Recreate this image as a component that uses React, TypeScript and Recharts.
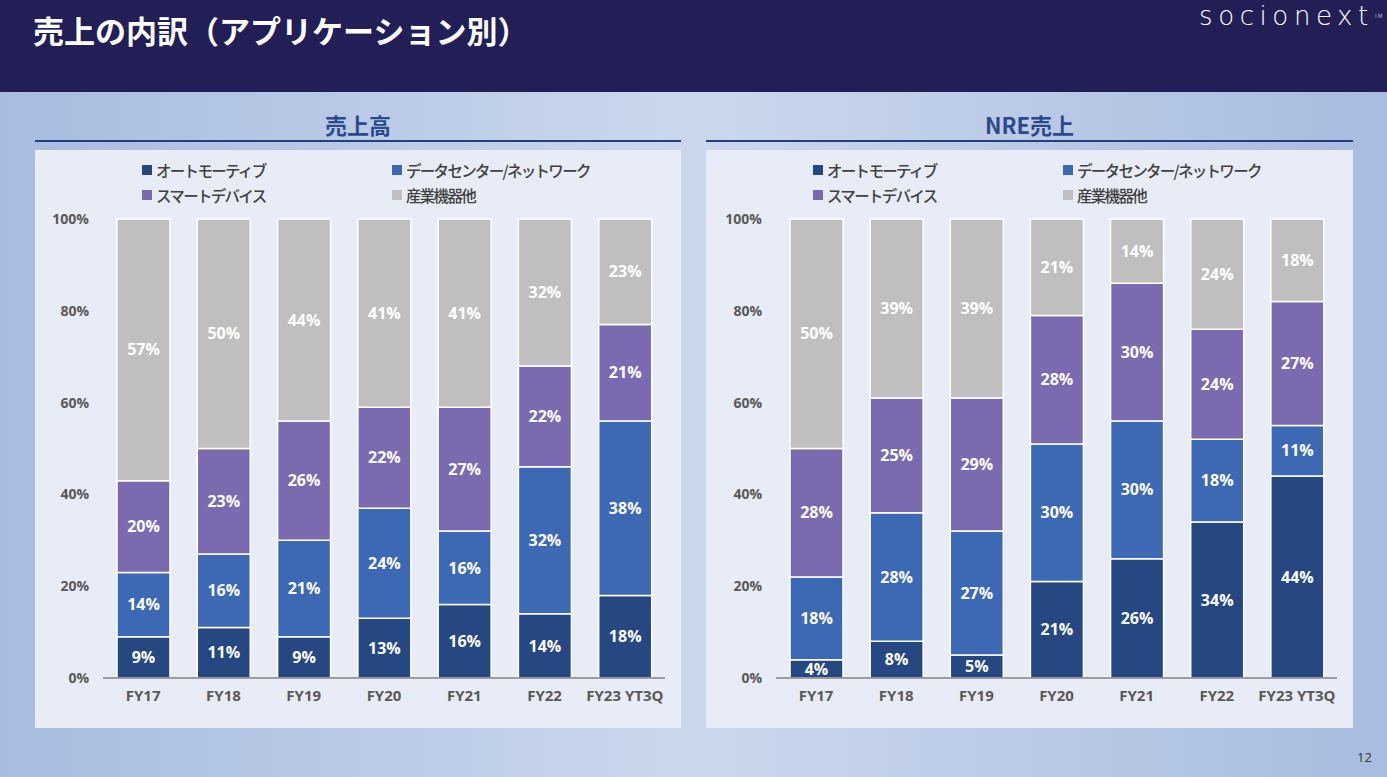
import React from "react"
import { BarChart, Bar, XAxis, YAxis, LabelList } from "recharts"

const categories = ["FY17", "FY18", "FY19", "FY20", "FY21", "FY22", "FY23 YT3Q"]

// 売上高
const salesAuto = [9, 11, 9, 13, 16, 14, 18]
const salesDc = [14, 16, 21, 24, 16, 32, 38]
const salesSmart = [20, 23, 26, 22, 27, 22, 21]
const salesOther = [57, 50, 44, 41, 41, 32, 23]

// NRE売上
const nreAuto = [4, 8, 5, 21, 26, 34, 44]
const nreDc = [18, 28, 27, 30, 30, 18, 11]
const nreSmart = [28, 25, 29, 28, 30, 24, 27]
const nreOther = [50, 39, 39, 21, 14, 24, 18]

const yTicks = [0, 20, 40, 60, 80, 100]

const seriesNames = ["オートモーティブ", "データセンター/ネットワーク", "スマートデバイス", "産業機器他"]
const seriesKeys = ["auto", "dc", "smart", "other"]

const COLORS: Record<string, string> = {
  auto: "#264781",
  dc: "#3d68b4",
  smart: "#7a6bb0",
  other: "#bfbfbf",
}

const FONT = "'Noto Sans CJK JP', 'Open Sans', sans-serif"
const NUM_FONT = "'Open Sans', 'Noto Sans', sans-serif"

const buildRows = (a: number[], d: number[], s: number[], o: number[]) =>
  categories.map((name, i) => ({ name, auto: a[i], dc: d[i], smart: s[i], other: o[i] }))

const salesRows = buildRows(salesAuto, salesDc, salesSmart, salesOther)
const nreRows = buildRows(nreAuto, nreDc, nreSmart, nreOther)

function PanelLegend() {
  return (
    <div
      style={{
        position: "absolute",
        left: 107,
        top: 8,
        display: "grid",
        gridTemplateColumns: "250px 250px",
        rowGap: 1,
        fontFamily: FONT,
        fontSize: 15.5,
        fontWeight: 500,
        letterSpacing: -1.7,
        color: "#404040",
      }}
    >
      {seriesNames.map((n, i) => (
        <div key={n} style={{ display: "flex", alignItems: "center", height: 24 }}>
          <span
            style={{ width: 10, height: 10, background: COLORS[seriesKeys[i]], marginRight: 4, display: "inline-block" }}
          />
          <span>{n}</span>
        </div>
      ))}
    </div>
  )
}

function StackPanel({ rows, left, width, title, marginLeft }: any) {
  const fmt = (v: any) => `${v}%`
  return (
    <>
      <div
        style={{
          position: "absolute",
          left,
          top: 108,
          width,
          textAlign: "center",
          fontFamily: FONT,
          fontWeight: 700,
          fontSize: 22,
          color: "#2b4a8b",
          lineHeight: "32px",
        }}
      >
        {title}
      </div>
      <div style={{ position: "absolute", left, top: 140, width, height: 2, background: "#23407a" }} />
      <div style={{ position: "absolute", left, top: 150, width, height: 578, background: "#e7ecf6" }}>
        <PanelLegend />
        <BarChart width={width} height={578} data={rows} margin={{ top: 69, right: 16, bottom: 20, left: marginLeft }}>
          <XAxis
            dataKey="name"
            axisLine={{ stroke: "#808080", strokeWidth: 1.5 }}
            tickLine={false}
            tickMargin={6}
            tick={{ fill: "#595959", fontSize: 15, fontWeight: 700, fontFamily: NUM_FONT }}
          />
          <YAxis
            width={60}
            domain={[0, 100]}
            ticks={yTicks}
            tickFormatter={fmt}
            axisLine={false}
            tickLine={false}
            tickMargin={8}
            tick={{ fill: "#595959", fontSize: 14, fontWeight: 700, fontFamily: NUM_FONT }}
          />
          {seriesKeys.map((k) => (
            <Bar
              key={k}
              dataKey={k}
              stackId="a"
              fill={COLORS[k]}
              stroke="#ffffff"
              strokeWidth={1.5}
              barSize={53}
              isAnimationActive={false}
            >
              <LabelList
                dataKey={k}
                position="center"
                formatter={fmt}
                fill="#ffffff"
                style={{ fontFamily: NUM_FONT, fontWeight: 700, fontSize: 16 }}
              />
            </Bar>
          ))}
        </BarChart>
      </div>
    </>
  )
}

export default function App() {
  return (
    <div
      style={{
        position: "absolute",
        left: 0,
        top: 0,
        width: 1387,
        height: 777,
        overflow: "hidden",
        background: "linear-gradient(90deg, #a7bce0 0%, #cbd7ec 50%, #a8bce0 100%)",
      }}
    >
      <div style={{ position: "absolute", left: 0, top: 0, width: 1387, height: 92, background: "#211f56" }}>
        <div
          style={{
            position: "absolute",
            left: 33,
            top: 10,
            color: "#ffffff",
            fontFamily: FONT,
            fontWeight: 700,
            fontSize: 31,
            lineHeight: "40px",
          }}
        >
          売上の内訳（アプリケーション別）
        </div>
        <div
          style={{
            position: "absolute",
            left: 1199,
            top: 1,
            color: "#ffffff",
            fontFamily: "'DejaVu Sans', sans-serif",
            fontWeight: 300,
            fontSize: 26,
            letterSpacing: 5.6,
            lineHeight: "30px",
          }}
        >
          socionext<span style={{ fontSize: 6, verticalAlign: "top", letterSpacing: 0 }}>TM</span>
        </div>
      </div>
      <StackPanel rows={salesRows} left={35} width={646} title="売上高" marginLeft={8} />
      <StackPanel rows={nreRows} left={706} width={647} title="NRE売上" marginLeft={10} />
      <div
        style={{
          position: "absolute",
          left: 1357,
          top: 748,
          fontFamily: NUM_FONT,
          fontSize: 13,
          color: "#333333",
        }}
      >
        12
      </div>
    </div>
  )
}
